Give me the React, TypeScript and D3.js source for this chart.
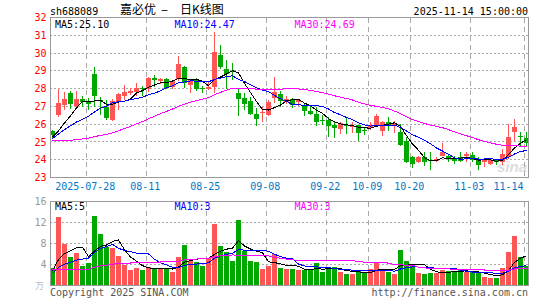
import React, { useEffect } from 'react';
import * as d3 from 'd3';

// trading days shown on the chart
const dates = [
  '2025-07-18', '2025-07-21', '2025-07-22', '2025-07-23', '2025-07-24', '2025-07-25',
  '2025-07-28', '2025-07-29', '2025-07-30', '2025-07-31', '2025-08-01',
  '2025-08-04', '2025-08-05', '2025-08-06', '2025-08-07', '2025-08-08',
  '2025-08-11', '2025-08-12', '2025-08-13', '2025-08-14', '2025-08-15',
  '2025-08-18', '2025-08-19', '2025-08-20', '2025-08-21', '2025-08-22',
  '2025-08-25', '2025-08-26', '2025-08-27', '2025-08-28', '2025-08-29',
  '2025-09-01', '2025-09-02', '2025-09-03', '2025-09-04', '2025-09-05',
  '2025-09-08', '2025-09-09', '2025-09-10', '2025-09-11', '2025-09-12',
  '2025-09-15', '2025-09-16', '2025-09-17', '2025-09-18', '2025-09-19',
  '2025-09-22', '2025-09-23', '2025-09-24', '2025-09-25', '2025-09-26',
  '2025-09-29', '2025-09-30', '2025-10-09', '2025-10-10',
  '2025-10-13', '2025-10-14', '2025-10-15', '2025-10-16', '2025-10-17',
  '2025-10-20', '2025-10-21', '2025-10-22', '2025-10-23', '2025-10-24',
  '2025-10-27', '2025-10-28', '2025-10-29', '2025-10-30', '2025-10-31',
  '2025-11-03', '2025-11-04', '2025-11-05', '2025-11-06', '2025-11-07',
  '2025-11-10', '2025-11-11', '2025-11-12', '2025-11-13', '2025-11-14',
];

const open = [
  25.60, 26.51, 27.08, 27.77, 27.02, 27.42, 27.30, 28.85, 27.35, 26.94,
  26.23, 27.26, 27.60, 27.77, 27.83, 28.02, 27.96, 28.58, 28.45, 28.55,
  28.11, 28.55, 29.23, 28.20, 28.49, 28.02, 27.98, 28.11, 29.90, 29.09,
  28.98, 27.77, 27.45, 27.30, 26.60, 26.64, 26.51, 27.49, 27.70, 27.26,
  27.40, 27.26, 27.00, 26.75, 26.60, 26.25, 26.23, 25.94, 25.75, 25.98,
  25.85, 25.94, 25.70, 25.78, 25.98, 25.60, 26.15, 25.96, 25.58, 25.04,
  24.17, 23.85, 24.13, 23.98, 23.94, 24.23, 24.23, 24.04, 24.17, 24.19,
  24.28, 24.04, 23.90, 23.75, 23.96, 23.85, 24.13, 25.55, 25.36, 25.23,
];
const high = [
  25.66, 27.98, 27.83, 27.87, 27.87, 27.60, 27.45, 29.23, 27.53, 27.36,
  27.40, 27.77, 28.20, 28.02, 28.34, 28.17, 28.68, 28.77, 28.62, 28.62,
  28.49, 29.85, 29.25, 28.50, 28.58, 28.15, 28.40, 31.17, 30.43, 29.62,
  29.43, 28.02, 27.74, 27.55, 26.89, 26.94, 27.36, 28.68, 27.87, 27.58,
  27.45, 27.42, 27.17, 27.08, 26.98, 26.51, 26.42, 26.19, 26.13, 26.32,
  26.13, 25.98, 25.85, 26.10, 26.58, 26.20, 26.43, 26.20, 26.02, 25.26,
  24.23, 24.23, 24.45, 24.45, 24.13, 24.92, 24.32, 24.23, 24.45, 24.42,
  24.42, 24.13, 24.04, 24.04, 24.04, 24.60, 26.00, 26.30, 25.55, 25.55,
];
const low = [
  25.19, 26.38, 26.79, 26.85, 26.87, 26.94, 26.80, 26.98, 26.50, 26.23,
  26.19, 26.80, 27.36, 27.64, 27.58, 27.60, 27.83, 28.11, 28.25, 27.96,
  27.96, 28.45, 28.02, 27.77, 27.87, 27.74, 27.92, 27.74, 29.10, 27.96,
  28.49, 26.47, 26.79, 26.51, 25.90, 26.13, 26.45, 27.20, 26.98, 27.13,
  26.89, 27.00, 26.47, 26.51, 25.90, 25.94, 25.30, 25.23, 25.42, 25.47,
  25.51, 25.04, 25.38, 25.70, 25.83, 25.32, 25.64, 25.50, 24.79, 23.81,
  23.51, 23.79, 23.66, 23.43, 23.85, 24.19, 23.85, 23.75, 23.85, 23.90,
  23.85, 23.43, 23.57, 23.72, 23.72, 23.72, 24.04, 25.08, 24.79, 24.79,
];
const close = [
  25.38, 27.21, 27.42, 27.13, 27.42, 27.26, 27.13, 27.60, 27.28, 26.32,
  27.30, 27.70, 27.83, 27.89, 28.06, 27.96, 28.62, 28.49, 28.53, 28.06,
  28.43, 29.40, 28.30, 28.49, 27.96, 27.96, 28.11, 30.04, 29.19, 28.81,
  28.92, 27.42, 27.13, 26.60, 26.28, 26.70, 27.26, 27.83, 27.30, 27.42,
  27.08, 27.36, 26.75, 26.60, 26.13, 26.20, 25.90, 25.81, 26.04, 25.90,
  25.90, 25.53, 25.62, 25.90, 26.45, 26.15, 25.87, 26.02, 24.85, 23.89,
  23.75, 24.17, 23.90, 23.94, 24.04, 24.45, 24.10, 23.94, 23.94, 24.32,
  23.98, 23.72, 23.98, 23.98, 23.90, 24.32, 25.26, 25.83, 25.30, 24.94,
];
// volume, 万手
const volume = [
  3.4, 13.1, 7.9, 5.5, 6.1, 3.8, 4.2, 13.3, 9.8, 7.4,
  7.2, 5.7, 3.9, 3.0, 3.4, 2.9, 3.6, 3.1, 3.1, 3.3,
  2.6, 5.5, 7.8, 4.6, 4.4, 3.7, 5.2, 11.8, 7.6, 6.3,
  4.6, 12.5, 6.6, 4.7, 4.4, 3.1, 3.7, 6.0, 3.3, 3.1,
  3.1, 2.9, 2.9, 3.0, 4.2, 2.6, 3.2, 3.5, 2.6, 2.2,
  2.1, 2.7, 2.3, 3.1, 4.2, 3.2, 2.6, 2.2, 6.8, 4.6,
  3.8, 2.4, 2.2, 2.4, 2.3, 3.0, 2.8, 2.6, 3.0, 2.5,
  2.5, 2.3, 1.6, 1.5, 1.5, 3.3, 6.4, 9.4, 5.4, 3.8,
];

// history before the first visible day, only used by the moving averages
const prevClose = [
  27.3, 27.5, 27.1, 26.4, 26.0, 25.7, 25.3, 25.0, 24.8, 24.5,
  24.3, 24.2, 24.1, 24.0, 23.9, 24.0, 24.1, 24.2, 24.3, 24.4,
  24.7, 24.9, 25.0, 25.3, 25.6, 25.5, 25.2, 25.1, 25.22,
];
const prevVolume = [
  13.0, 8.0, 5.5, 6.0, 3.8, 4.2, 2.4, 2.2, 2.0, 2.1,
  1.9, 2.0, 2.2, 2.3, 2.1, 2.0, 1.9, 2.1, 2.0, 2.2,
  1.7, 1.8, 1.9, 1.7, 1.9, 2.3, 2.5, 2.8, 3.0,
];

const tickDates = ['2025-07-28', '2025-08-11', '2025-08-25', '2025-09-08', '2025-09-22', '2025-10-09', '2025-10-20', '2025-11-03', '2025-11-14'];
const priceTicks = [23, 24, 25, 26, 27, 28, 29, 30, 31, 32];
const volTicks = [4, 8, 12, 16];

const RED = '#ff5555';
const GREEN = '#00a800';
const GRID = '#aaaaaa';
const MONO = "'DejaVu Sans Mono', monospace";

const L = 50, R = 528;
const PT = 17.5, PB = 177.5, VT = 201.5, VB = 285.5;

const movingAvg = (series: number[], prev: number[], n: number) => {
  const all = prev.concat(series);
  return series.map((_, i) => d3.mean(all.slice(prev.length + i - n + 1, prev.length + i + 1)) as number);
};

const crisp = (v: number) => Math.round(v - 0.5) + 0.5;

export default function App() {
  useEffect(() => {
    document.body.style.margin = '0';
  }, []);

  const x = d3.scalePoint<string>().domain(dates).range([52.5, 526.5]);
  const y = d3.scaleLinear().domain([23, 32]).range([PB, PT]);
  const yv = d3.scaleLinear().domain([0, 16]).range([VB, VT]);

  const ma = [5, 10, 30].map(n => movingAvg(close, prevClose, n));
  const vma = [5, 10, 30].map(n => movingAvg(volume, prevVolume, n));
  const maColors = ['#000000', '#0000ff', '#ff00ff'];

  const priceLine = d3.line<number>().x((_, i) => x(dates[i])!).y(d => y(d));
  const volLine = d3.line<number>().x((_, i) => x(dates[i])!).y(d => yv(d));

  const up = (i: number) => close[i] >= open[i];

  return (
    <svg width={545} height={300} style={{ display: 'block', background: '#fff' }}>
      {/* header */}
      <text x={50} y={15} fontFamily={MONO} fontSize={10} fill="#000">sh688089</text>
      <text x={120} y={14} fontFamily="'Noto Sans CJK SC'" fontSize={12} fill="#000">嘉必优</text>
      <text x={164.5} y={14} fontFamily="'Noto Sans CJK SC'" fontSize={13} fill="#000" textAnchor="middle">–</text>
      <text x={180} y={14} fontFamily="'Noto Sans CJK SC'" fontSize={12} fill="#000">日K线图</text>
      <text x={528} y={15} fontFamily={MONO} fontSize={10} fill="#000" textAnchor="end">2025-11-14 15:00:00</text>

      {/* watermark */}
      <text x={497} y={172} fontFamily="'Liberation Sans', sans-serif" fontSize={15} fontWeight="bold" fontStyle="italic" fill="#dddddd">sina</text>

      {/* price grid */}
      {priceTicks.slice(1, -1).map(t => (
        <line key={'pg' + t} x1={L} x2={R} y1={crisp(y(t))} y2={crisp(y(t))} stroke={GRID} strokeDasharray="2,2" shapeRendering="crispEdges" />
      ))}
      {volTicks.slice(0, -1).map(t => (
        <line key={'vg' + t} x1={L} x2={R} y1={crisp(yv(t))} y2={crisp(yv(t))} stroke={GRID} strokeDasharray="2,2" shapeRendering="crispEdges" />
      ))}
      {tickDates.map(d => (
        <g key={'vd' + d}>
          <line x1={x(d)! - 2} x2={x(d)! - 2} y1={PT} y2={PB} stroke={GRID} strokeDasharray="5,4" shapeRendering="crispEdges" />
          <line x1={x(d)! - 2} x2={x(d)! - 2} y1={VT} y2={VB} stroke={GRID} strokeDasharray="5,4" shapeRendering="crispEdges" />
        </g>
      ))}

      {/* candles */}
      {dates.map((d, i) => {
        const cx = x(d)!;
        const col = up(i) ? RED : GREEN;
        const top = y(Math.max(open[i], close[i]));
        const bot = y(Math.min(open[i], close[i]));
        return (
          <g key={'c' + d} shapeRendering="crispEdges">
            <line x1={cx} x2={cx} y1={y(high[i])} y2={y(low[i])} stroke={col} />
            <rect x={cx - 2.5} y={top} width={5} height={Math.max(1, bot - top)} fill={col} />
          </g>
        );
      })}

      {/* volume bars */}
      {dates.map((d, i) => (
        <rect key={'v' + d} x={x(d)! - 2.5} y={yv(volume[i])} width={5} height={VB - yv(volume[i])}
          fill={up(i) ? RED : GREEN} shapeRendering="crispEdges" />
      ))}

      {/* moving averages */}
      {ma.map((s, k) => (
        <path key={'ma' + k} d={priceLine(s)!} fill="none" stroke={maColors[k]} strokeWidth={1} shapeRendering="crispEdges" />
      ))}
      {vma.map((s, k) => (
        <path key={'vma' + k} d={volLine(s)!} fill="none" stroke={maColors[k]} strokeWidth={1} shapeRendering="crispEdges" />
      ))}

      {/* frames */}
      <rect x={L + 0.5} y={PT} width={R - L - 0.5} height={PB - PT} fill="none" stroke="#999" shapeRendering="crispEdges" />
      <rect x={L + 0.5} y={VT} width={R - L - 0.5} height={VB - VT} fill="none" stroke="#999" shapeRendering="crispEdges" />

      {/* MA legends */}
      <text x={55} y={27.5} fontFamily={MONO} fontSize={10} fill="#000">MA5:25.10</text>
      <text x={174.5} y={27.5} fontFamily={MONO} fontSize={10} fill="#0000ff">MA10:24.47</text>
      <text x={294.5} y={27.5} fontFamily={MONO} fontSize={10} fill="#ff00ff">MA30:24.69</text>
      <text x={55} y={209.5} fontFamily={MONO} fontSize={10} fill="#000">MA5:5</text>
      <text x={174.5} y={209.5} fontFamily={MONO} fontSize={10} fill="#0000ff">MA10:3</text>
      <text x={294.5} y={209.5} fontFamily={MONO} fontSize={10} fill="#ff00ff">MA30:3</text>

      {/* axes labels */}
      {priceTicks.map(t => (
        <text key={'pl' + t} x={46.5} y={y(t)} dy="0.36em" fontFamily={MONO} fontSize={10} fill="#ff0000" textAnchor="end">{t}</text>
      ))}
      {volTicks.map(t => (
        <text key={'vl' + t} x={46.5} y={yv(t)} dy="0.36em" fontFamily={MONO} fontSize={10} fill="#999" textAnchor="end">{t}</text>
      ))}
      <text x={44} y={289} fontFamily="'Noto Sans CJK SC'" fontSize={9} fill="#bbb" textAnchor="end">万</text>
      {tickDates.map((d, k) => {
        const last = k === tickDates.length - 1;
        return (
          <text key={'xl' + d} x={last ? x(d)! - 3 : x(d)! - 3.2} y={190} fontFamily={MONO} fontSize={10} fill="#0078c8"
            textAnchor={last ? 'end' : 'middle'}>{k === 0 ? d : d.slice(5)}</text>
        );
      })}

      {/* footer */}
      <text x={50} y={296} fontFamily={MONO} fontSize={10} fill="#555">Copyright 2025 SINA.COM</text>
      <text x={528} y={296} fontFamily={MONO} fontSize={10} fill="#555" textAnchor="end">http://finance.sina.com.cn</text>
    </svg>
  );
}
